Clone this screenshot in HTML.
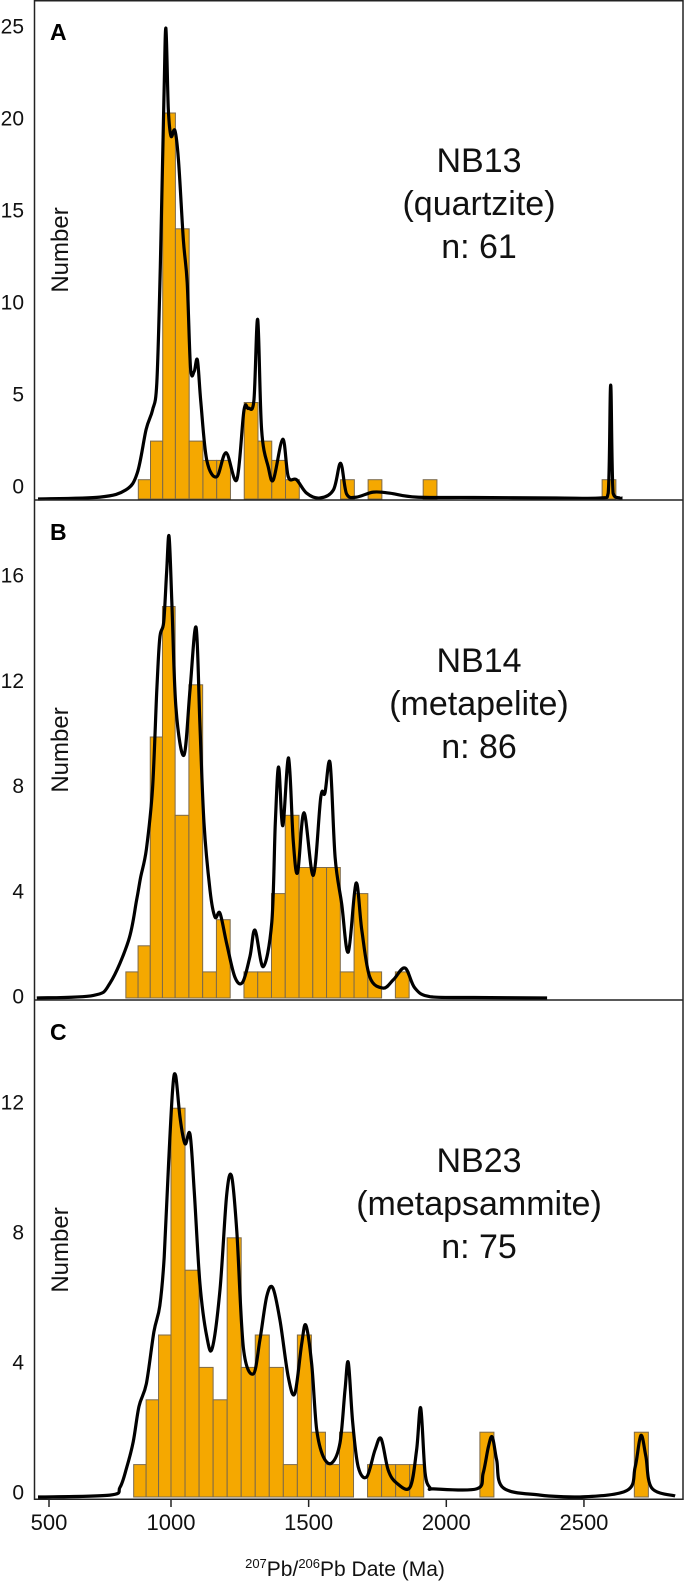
<!DOCTYPE html>
<html><head><meta charset="utf-8"><style>
html,body{margin:0;padding:0;background:#fff;}
svg{display:block;font-family:"Liberation Sans",Arial,sans-serif;}
</style></head><body>
<svg id="chart" width="685" height="1584" viewBox="0 0 685 1584" xmlns="http://www.w3.org/2000/svg"></svg>
<script>
// ---- data ----
const xTicks = [500, 1000, 1500, 2000, 2500];
const panelIds = ["A", "B", "C"];
const sampleNames = ["NB13", "NB14", "NB23"];
const lithologies = ["(quartzite)", "(metapelite)", "(metapsammite)"];
const sampleCounts = ["n: 61", "n: 86", "n: 75"];
const yTicksA = [0, 5, 10, 15, 20, 25];
const yTicksB = [0, 4, 8, 12, 16];
const yTicksC = [0, 4, 8, 12];
const binStartA = 866, binWidthA = 50;
const binStartB = 815, binWidthB = 50;
const binStartC = 847, binWidthC = 51;
const countsA = [1,3,20,14,3,2,2,0,5,3,2,1,0,0,0,1,0,1,0,0,0,1,0,0,0,0,0,0,0,0,0,0,0,0,1];
const countsB = [1,2,10,15,7,12,1,3,0,1,1,4,7,5,5,5,1,4,1,0,1];
const countsC = [1,3,5,12,7,4,3,8,4,5,4,1,5,2,1,2,0,1,1,1,1,0,0,0,0,2,0,0,0,0,0,0,0,0,0,0,2];
const curveDatesA = [455,709,815,862,898,924,942,956,971,979,989,1000,1014,1027,1045,1059,1071,1084,1096,1108,1130,1166,1200,1239,1265,1281,1301,1315,1329,1353,1372,1406,1426,1456,1493,1541,1590,1616,1638,1674,1735,1795,1892,2100,2400,2560,2588,2597,2606,2630,2640];
const curveValsA  = [0,0.1,0.47,1.35,3.6,4.6,6.0,12,20.7,24.4,20.2,18.8,19.1,17.6,13.4,11.2,6.8,6.6,7.2,5.1,2.0,1.15,2.4,1.0,4.6,4.7,5.1,9.3,3.6,1.67,1.0,3.1,1.15,1.0,0.3,0.05,0.47,1.85,0.26,0.1,0.36,0.3,0.1,0.08,0.05,0.05,0.3,5.9,0.3,0.05,0.05];
const curveDatesB = [450,682,750,826,859,875,899,924,942,954,970,982,992,1003,1018,1047,1069,1091,1105,1120,1142,1160,1178,1202,1232,1260,1287,1305,1335,1366,1379,1391,1406,1427,1444,1460,1483,1517,1544,1559,1578,1596,1620,1644,1672,1693,1722,1771,1808,1850,1886,1941,2100,2366];
const curveValsB  = [0,0.1,0.57,2.2,3.75,4.6,5.7,8.0,11.8,13.8,14.4,16.3,17.7,15.2,11.1,9.3,11.8,14.2,10.5,6.7,4.1,3.1,3.25,2.1,0.8,0.6,1.6,2.6,1.2,2.9,6.7,8.85,6.6,9.2,6.05,4.8,7.1,4.7,7.7,7.85,9.0,5.4,3.6,1.76,4.4,2.6,0.8,0.38,0.7,1.15,0.38,0.05,0.02,0];
const curveDatesC = [455,750,791,818,845,869,899,930,954,972,990,1006,1017,1033,1051,1069,1084,1105,1130,1150,1178,1202,1220,1239,1263,1299,1323,1348,1370,1396,1426,1450,1475,1490,1511,1529,1553,1584,1614,1632,1644,1660,1680,1711,1741,1763,1789,1820,1868,1892,1907,1923,1941,1953,2110,2134,2153,2167,2183,2207,2341,2486,2656,2686,2707,2725,2746,2831];
const curveValsC  = [0,0.06,0.3,0.9,1.7,2.8,3.5,5.1,5.9,7.4,10.3,12.6,13.0,11.7,10.9,11.2,9.5,6.6,4.95,4.6,6.4,9.3,9.9,8.2,4.6,3.8,4.85,6.2,6.45,5.45,3.7,3.2,4.75,5.3,4.1,2.1,1.25,1.05,1.67,3.3,4.15,2.3,0.93,0.62,1.45,1.8,0.83,0.43,0.3,1.45,2.75,0.74,0.28,0.25,0.25,0.74,1.55,1.85,1.14,0.28,0.06,0,0.2,0.93,1.9,1.25,0.28,0.03];

// ---- scales ----
function xScale(d){ return d < 1000 ? 49 + (d - 500) * 0.244 : 171 + (d - 1000) * 0.2753; }
function barScaleA(v){ return 499 - v * 19.3; }
function barScaleB(v){ return 998 - v * 26.1; }
function barScaleC(v){ return 1497 - v * 32.4; }
function labelScaleA(v){ return 487 - v * 18.4; }
function labelScaleB(v){ return 997 - v * 26.3; }
function labelScaleC(v){ return 1493 - v * 32.5; }

const NS = "http://www.w3.org/2000/svg";
const svg = document.getElementById("chart");
function mk(tag, attrs, parent){
  const e = document.createElementNS(NS, tag);
  for (const k in attrs) e.setAttribute(k, attrs[k]);
  (parent || svg).appendChild(e);
  return e;
}

function drawBars(counts, start, width, yS, panel){
  const g = mk("g", {});
  
  
  counts.forEach((c, i) => {
    if (!c) return;
    const x0 = xScale(start + i * width), x1 = xScale(start + (i + 1) * width);
    const r = mk("rect", {x: x0, y: yS(c), width: x1 - x0, height: yS(0) - yS(c), fill: "#F5A800", stroke: "#7d6a4a", "stroke-width": 1}, g);
    
    
  });
}

function drawCurve(dates, vals, yS, panel){
  const base = yS(0);
  const pts = dates.map((d, i) => [xScale(d), yS(vals[i])]);
  let p = "M" + pts[0][0].toFixed(1) + "," + pts[0][1].toFixed(1);
  for (let i = 0; i < pts.length - 1; i++){
    const p0 = pts[Math.max(0, i - 1)], p1 = pts[i], p2 = pts[i + 1], p3 = pts[Math.min(pts.length - 1, i + 2)];
    const t = 6;
    const c1 = [p1[0] + (p2[0] - p0[0]) / t, Math.min(base, p1[1] + (p2[1] - p0[1]) / t)];
    const c2 = [p2[0] - (p3[0] - p1[0]) / t, Math.min(base, p2[1] - (p3[1] - p1[1]) / t)];
    p += " C" + c1[0].toFixed(1) + "," + c1[1].toFixed(1) + " " + c2[0].toFixed(1) + "," + c2[1].toFixed(1) + " " + p2[0].toFixed(1) + "," + p2[1].toFixed(1);
  }
  const path = mk("path", {d: p, fill: "none", stroke: "#000", "stroke-width": 3.2, "stroke-linejoin": "round"});
  
  
}

function drawYTicks(ticks, lS, panel){
  ticks.forEach(v => {
    const t = mk("text", {x: 24, y: lS(v), "text-anchor": "end", "dominant-baseline": "central", "font-size": 21, fill: "#111"});
    t.textContent = v;
    
    
  });
}

const panels = [
  {counts: countsA, start: binStartA, width: binWidthA, yS: barScaleA, lS: labelScaleA, ticks: yTicksA, cd: curveDatesA, cv: curveValsA, top: 0},
  {counts: countsB, start: binStartB, width: binWidthB, yS: barScaleB, lS: labelScaleB, ticks: yTicksB, cd: curveDatesB, cv: curveValsB, top: 500},
  {counts: countsC, start: binStartC, width: binWidthC, yS: barScaleC, lS: labelScaleC, ticks: yTicksC, cd: curveDatesC, cv: curveValsC, top: 1000}
];

panels.forEach((P, k) => {
  const id = panelIds[k];
  drawBars(P.counts, P.start, P.width, P.yS, id);
  drawCurve(P.cd, P.cv, P.yS, id);
  drawYTicks(P.ticks, P.lS, id);
  const letter = mk("text", {x: 50, y: P.top + 40, "font-size": 23, "font-weight": "bold", fill: "#000"});
  letter.textContent = id;
  
  
  const cy = P.top + 250;
  const yl = mk("text", {x: 0, y: 0, transform: "translate(68," + cy + ") rotate(-90)", "text-anchor": "middle", "font-size": 24, fill: "#111"});
  yl.textContent = "Number";
  
  
  const lines = [sampleNames[k], lithologies[k], sampleCounts[k]];
  lines.forEach((s, j) => {
    const t = mk("text", {x: 479, y: P.top + 172 + j * 43, "text-anchor": "middle", "font-size": 34, fill: "#111"});
    t.textContent = s;
    
    
  });
});

// frame
const frame = mk("g", {stroke: "#222", "stroke-width": 1.5, fill: "none"});


mk("rect", {x: 34.5, y: 0.75, width: 648.5, height: 1498.5}, frame);
mk("line", {x1: 34.5, y1: 500, x2: 683, y2: 500}, frame);
mk("line", {x1: 34.5, y1: 1000, x2: 683, y2: 1000}, frame);

// x axis ticks
xTicks.forEach(v => {
  const x = xScale(v);
  const tk = mk("line", {x1: x, y1: 1499, x2: x, y2: 1507, stroke: "#222", "stroke-width": 1.5});
  
  
  const t = mk("text", {x: x, y: 1530, "text-anchor": "middle", "font-size": 22, fill: "#111"});
  t.textContent = v;
  
  
});
</script>
<svg style="position:absolute;left:0;top:0" width="685" height="1584">
<text x="345" y="1576" text-anchor="middle" font-family="Liberation Sans, Arial, sans-serif" font-size="21" fill="#111"><tspan font-size="13" dy="-8">207</tspan><tspan dy="8">Pb/</tspan><tspan font-size="13" dy="-8">206</tspan><tspan dy="8">Pb Date (Ma)</tspan></text>
</svg>
</body></html>
